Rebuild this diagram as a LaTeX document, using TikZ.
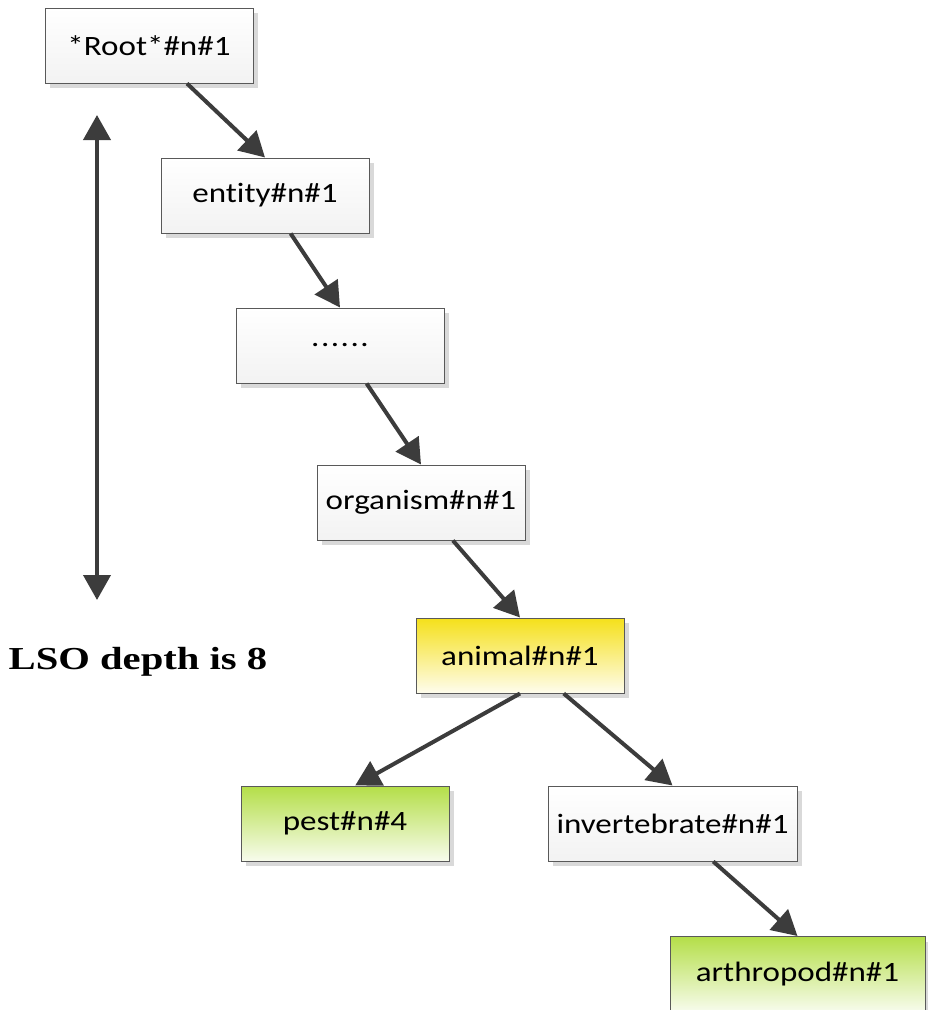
\documentclass[tikz,border=0pt]{standalone}
\usepackage{fontspec}
\setmainfont{Carlito}[FakeStretch=1.18, Ligatures=NoCommon]
\newfontfamily\depthfont{Liberation Serif}[FakeStretch=1.27]
\usetikzlibrary{arrows.meta,shadows}

\definecolor{linkgray}{HTML}{3C3C3C}
\definecolor{lsoyellow}{HTML}{F5E01A}
\definecolor{leafgreen}{HTML}{B4DE48}

\tikzset{
    synset/.style={draw=black!65, line width=1pt, minimum width=208pt, minimum height=75pt,
        inner sep=0pt, top color=white, bottom color=black!5,
        drop shadow={shadow xshift=5pt, shadow yshift=-5pt, fill=black!15, opacity=1},
        font=\fontsize{28}{32}\selectfont},
    lso/.style={top color=lsoyellow, bottom color=lsoyellow!8},
    leaf/.style={top color=leafgreen, bottom color=leafgreen!10},
    link/.style={line width=4pt, draw=linkgray}
}

\begin{document}
\begin{tikzpicture}[x=1pt, y=-1pt, >={Triangle[length=25pt, width=27pt]}]
    \useasboundingbox (0,0) rectangle (928,1010);

    % synsets on the path
    \node[synset] (root) at (149,45.5) {*Root*\#n\#1};
    \node[synset] (entity) at (265,195.5) {entity\#n\#1};
    \node[synset] (dots) at (340,345.5) {.\kern1.5pt.\kern1.5pt.\kern1.5pt.\kern1.5pt.\kern1.5pt.};
    \node[synset] (organism) at (421,502.5) {organism\#n\#1};
    \node[synset, lso] (animal) at (520,655.5) {animal\#n\#1};

    % below the LSO
    \node[synset, leaf] (pest) at (345,823.5) {pest\#n\#4};
    \node[synset, minimum width=249pt] (invertebrate) at (672.5,823.5) {invertebrate\#n\#1};
    \node[synset, leaf, minimum width=255pt] (arthropod) at (797.5,974) {arthropod\#n\#1};

    % hypernym links
    \draw[link, ->] (root.-45) -- (entity.north);
    \draw[link, ->] (entity.-56) -- (dots.north);
    \draw[link, ->] (dots.-55) -- (organism.north);
    \draw[link, ->] (organism.-50) -- (animal.north);
    \draw[link, ->] (animal.south) -- (pest.75);
    \draw[link, ->] (animal.-41) -- (invertebrate.north);
    \draw[link, ->] (invertebrate.-43) -- (arthropod.north);

    % depth
    \coordinate (depthtop) at (97,115);
    \coordinate (depthbot) at (97,600);
    \draw[link, <->] (depthtop) -- (depthbot);
    \node[font=\depthfont\bfseries\fontsize{32}{36}\selectfont] (depth) at (138,662) {LSO depth is 8};
\end{tikzpicture}
\end{document}
